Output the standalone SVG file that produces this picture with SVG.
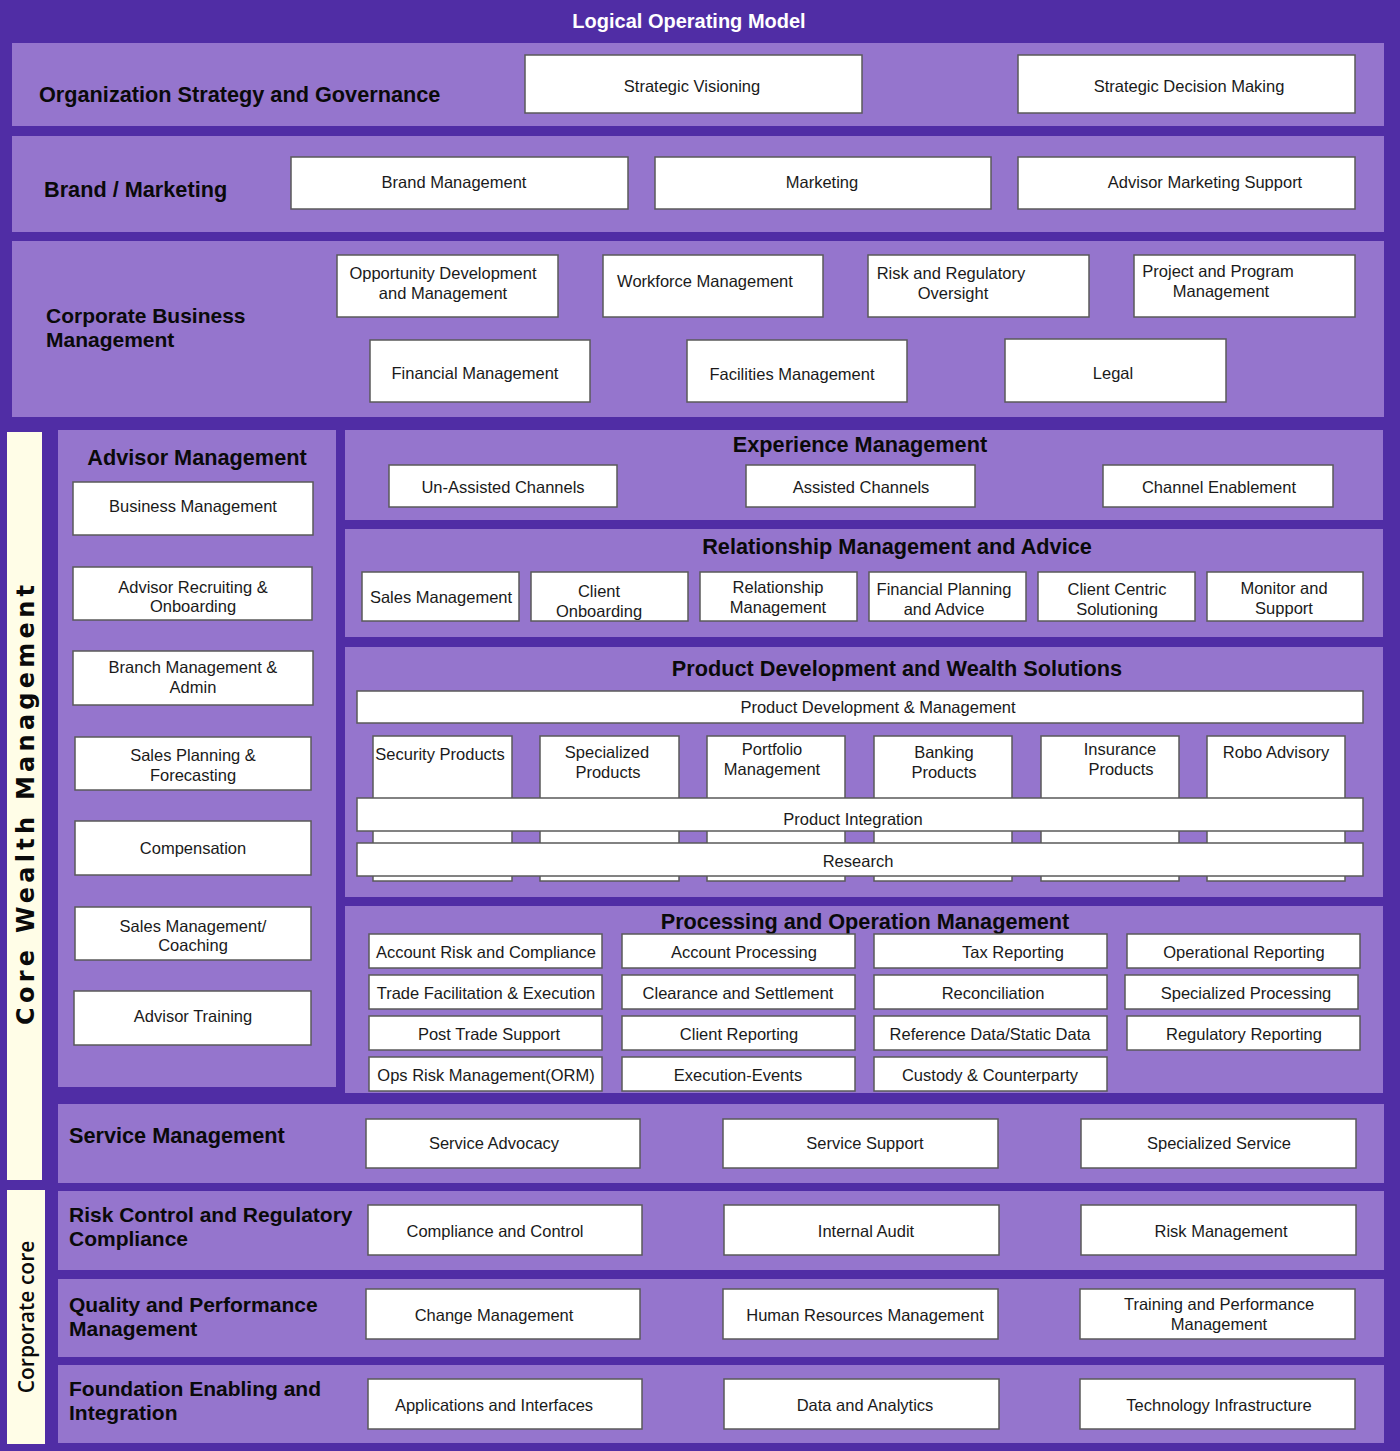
<svg xmlns="http://www.w3.org/2000/svg" width="1400" height="1451" viewBox="0 0 1400 1451">
<style>
.bg{fill:#502DA5}
.panel{fill:#9575CD}
.cream{fill:#FFFDE7}
.box{fill:#FFFFFF;stroke:#5A5A5A;stroke-width:1.5}
.t{font-family:"Liberation Sans",Arial,sans-serif;font-size:16.5px;fill:#1A1A1A;text-anchor:middle;dominant-baseline:central}
.h{font-family:"Liberation Sans",Arial,sans-serif;font-size:21.7px;font-weight:bold;fill:#0A0A0A}
.h2{font-size:21px}
.hc{text-anchor:middle}
.title{font-family:"Liberation Sans",Arial,sans-serif;font-size:20px;font-weight:bold;fill:#FFFFFF;text-anchor:middle}
.vl{font-family:"DejaVu Sans",Verdana,sans-serif;font-size:24px;font-weight:bold;fill:#0A0A0A;text-anchor:middle}
.vc{font-family:"Open Sans","DejaVu Sans",sans-serif;font-size:21px;font-weight:600;fill:#0A0A0A;text-anchor:middle}
</style>
<rect class="bg" x="0" y="0" width="1400" height="1451"/>
<text class="title" x="689" y="28">Logical Operating Model</text>

<!-- Organization Strategy -->
<g id="org-strategy">
<rect class="panel" x="12" y="43" width="1372" height="83"/>
<text class="h" x="39" y="102">Organization Strategy and Governance</text>
<g id="strategic-visioning"><rect class="box" x="525" y="55" width="337" height="58"/><text class="t" x="692" y="86">Strategic Visioning</text></g>
<g id="strategic-decision"><rect class="box" x="1018" y="55" width="337" height="58"/><text class="t" x="1189" y="86">Strategic Decision Making</text></g>
</g>

<!-- Brand / Marketing -->
<g id="brand-marketing">
<rect class="panel" x="12" y="136" width="1372" height="96"/>
<text class="h" x="44" y="197">Brand / Marketing</text>
<g id="brand-management"><rect class="box" x="291" y="157" width="337" height="52"/><text class="t" x="454" y="182">Brand Management</text></g>
<g id="marketing"><rect class="box" x="655" y="157" width="336" height="52"/><text class="t" x="822" y="182">Marketing</text></g>
<g id="advisor-marketing-support"><rect class="box" x="1018" y="157" width="337" height="52"/><text class="t" x="1205" y="182">Advisor Marketing Support</text></g>
</g>

<!-- Corporate Business Management -->
<g id="corporate-business">
<rect class="panel" x="12" y="241" width="1372" height="176"/>
<text class="h h2" x="46" y="323">Corporate Business</text>
<text class="h h2" x="46" y="347">Management</text>
<g id="opportunity-dev"><rect class="box" x="337" y="255" width="221" height="62"/><text class="t" x="443" y="273">Opportunity Development</text><text class="t" x="443" y="293">and Management</text></g>
<g id="workforce"><rect class="box" x="603" y="255" width="220" height="62"/><text class="t" x="705" y="281">Workforce Management</text></g>
<g id="risk-regulatory-oversight"><rect class="box" x="868" y="255" width="221" height="62"/><text class="t" x="951" y="273">Risk and Regulatory</text><text class="t" x="953" y="293">Oversight</text></g>
<g id="project-program"><rect class="box" x="1134" y="255" width="221" height="62"/><text class="t" x="1218" y="271">Project and Program</text><text class="t" x="1221" y="291">Management</text></g>
<g id="financial-management"><rect class="box" x="370" y="340" width="220" height="62"/><text class="t" x="475" y="373">Financial Management</text></g>
<g id="facilities-management"><rect class="box" x="687" y="340" width="220" height="62"/><text class="t" x="792" y="374">Facilities Management</text></g>
<g id="legal"><rect class="box" x="1005" y="339" width="221" height="63"/><text class="t" x="1113" y="373">Legal</text></g>
</g>

<!-- Core Wealth Management label -->
<g id="core-wealth-label">
<rect class="cream" x="7" y="432" width="35" height="748"/>
<text class="vl" transform="translate(34,805) rotate(-90)" textLength="440" lengthAdjust="spacing">Core Wealth Management</text>
</g>

<!-- Advisor Management -->
<g id="advisor-management">
<rect class="panel" x="58" y="430" width="278" height="657"/>
<text class="h hc" x="197" y="465">Advisor Management</text>
<g id="business-management"><rect class="box" x="73" y="482" width="240" height="53"/><text class="t" x="193" y="506">Business Management</text></g>
<g id="advisor-recruiting"><rect class="box" x="73" y="567" width="239" height="53"/><text class="t" x="193" y="587">Advisor Recruiting &amp;</text><text class="t" x="193" y="606">Onboarding</text></g>
<g id="branch-management"><rect class="box" x="73" y="651" width="240" height="54"/><text class="t" x="193" y="667">Branch Management &amp;</text><text class="t" x="193" y="687">Admin</text></g>
<g id="sales-planning"><rect class="box" x="75" y="737" width="236" height="53"/><text class="t" x="193" y="755">Sales Planning &amp;</text><text class="t" x="193" y="775">Forecasting</text></g>
<g id="compensation"><rect class="box" x="75" y="821" width="236" height="54"/><text class="t" x="193" y="848">Compensation</text></g>
<g id="sales-management-coaching"><rect class="box" x="75" y="907" width="236" height="53"/><text class="t" x="193" y="926">Sales Management/</text><text class="t" x="193" y="945">Coaching</text></g>
<g id="advisor-training"><rect class="box" x="74" y="991" width="237" height="54"/><text class="t" x="193" y="1016">Advisor Training</text></g>
</g>

<!-- Experience Management -->
<g id="experience-management">
<rect class="panel" x="345" y="430" width="1038" height="90"/>
<text class="h hc" x="860" y="452">Experience Management</text>
<g id="un-assisted"><rect class="box" x="389" y="465" width="228" height="42"/><text class="t" x="503" y="487">Un-Assisted Channels</text></g>
<g id="assisted"><rect class="box" x="746" y="465" width="229" height="42"/><text class="t" x="861" y="487">Assisted Channels</text></g>
<g id="channel-enablement"><rect class="box" x="1103" y="465" width="230" height="42"/><text class="t" x="1219" y="487">Channel Enablement</text></g>
</g>

<!-- Relationship Management and Advice -->
<g id="relationship-management-advice">
<rect class="panel" x="345" y="529" width="1038" height="108"/>
<text class="h hc" x="897" y="554">Relationship Management and Advice</text>
<g id="sales-management"><rect class="box" x="362" y="572" width="157" height="49"/><text class="t" x="441" y="597">Sales Management</text></g>
<g id="client-onboarding"><rect class="box" x="531" y="572" width="157" height="49"/><text class="t" x="599" y="591">Client</text><text class="t" x="599" y="611">Onboarding</text></g>
<g id="relationship-management"><rect class="box" x="700" y="572" width="157" height="49"/><text class="t" x="778" y="587">Relationship</text><text class="t" x="778" y="607">Management</text></g>
<g id="financial-planning"><rect class="box" x="869" y="572" width="157" height="49"/><text class="t" x="944" y="589">Financial Planning</text><text class="t" x="944" y="609">and Advice</text></g>
<g id="client-centric"><rect class="box" x="1038" y="572" width="157" height="49"/><text class="t" x="1117" y="589">Client Centric</text><text class="t" x="1117" y="609">Solutioning</text></g>
<g id="monitor-support"><rect class="box" x="1207" y="572" width="156" height="49"/><text class="t" x="1284" y="588">Monitor and</text><text class="t" x="1284" y="608">Support</text></g>
</g>

<!-- Product Development and Wealth Solutions -->
<g id="product-development">
<rect class="panel" x="345" y="647" width="1038" height="250"/>
<text class="h hc" x="897" y="676">Product Development and Wealth Solutions</text>
<g id="pdm"><rect class="box" x="357" y="691" width="1006" height="32"/><text class="t" x="878" y="707">Product Development &amp; Management</text></g>
<g id="security-products"><rect class="box" x="373" y="736" width="139" height="145"/><text class="t" x="440" y="754">Security Products</text></g>
<g id="specialized-products"><rect class="box" x="540" y="736" width="139" height="145"/><text class="t" x="607" y="752">Specialized</text><text class="t" x="608" y="772">Products</text></g>
<g id="portfolio-management"><rect class="box" x="707" y="736" width="138" height="145"/><text class="t" x="772" y="749">Portfolio</text><text class="t" x="772" y="769">Management</text></g>
<g id="banking-products"><rect class="box" x="874" y="736" width="138" height="145"/><text class="t" x="944" y="752">Banking</text><text class="t" x="944" y="772">Products</text></g>
<g id="insurance-products"><rect class="box" x="1041" y="736" width="138" height="145"/><text class="t" x="1120" y="749">Insurance</text><text class="t" x="1121" y="769">Products</text></g>
<g id="robo-advisory"><rect class="box" x="1207" y="736" width="138" height="145"/><text class="t" x="1276" y="752">Robo Advisory</text></g>
<g id="product-integration"><rect class="box" x="357" y="798" width="1006" height="33"/><text class="t" x="853" y="819">Product Integration</text></g>
<g id="research"><rect class="box" x="357" y="843" width="1006" height="33"/><text class="t" x="858" y="861">Research</text></g>
</g>

<!-- Processing and Operation Management -->
<g id="processing-operation">
<rect class="panel" x="345" y="906" width="1038" height="187"/>
<text class="h hc" x="865" y="929">Processing and Operation Management</text>
<g id="account-risk"><rect class="box" x="369" y="934" width="233" height="34"/><text class="t" x="486" y="952">Account Risk and Compliance</text></g>
<g id="trade-facilitation"><rect class="box" x="369" y="975" width="233" height="34"/><text class="t" x="486" y="993">Trade Facilitation &amp; Execution</text></g>
<g id="post-trade"><rect class="box" x="369" y="1016" width="233" height="34"/><text class="t" x="489" y="1034">Post Trade Support</text></g>
<g id="ops-risk"><rect class="box" x="369" y="1057" width="233" height="34"/><text class="t" x="486" y="1075">Ops Risk Management(ORM)</text></g>
<g id="account-processing"><rect class="box" x="622" y="934" width="233" height="34"/><text class="t" x="744" y="952">Account Processing</text></g>
<g id="clearance"><rect class="box" x="622" y="975" width="233" height="34"/><text class="t" x="738" y="993">Clearance and Settlement</text></g>
<g id="client-reporting"><rect class="box" x="622" y="1016" width="233" height="34"/><text class="t" x="739" y="1034">Client Reporting</text></g>
<g id="execution-events"><rect class="box" x="622" y="1057" width="233" height="34"/><text class="t" x="738" y="1075">Execution-Events</text></g>
<g id="tax-reporting"><rect class="box" x="874" y="934" width="233" height="34"/><text class="t" x="1013" y="952">Tax Reporting</text></g>
<g id="reconciliation"><rect class="box" x="874" y="975" width="233" height="34"/><text class="t" x="993" y="993">Reconciliation</text></g>
<g id="reference-data"><rect class="box" x="874" y="1016" width="233" height="34"/><text class="t" x="990" y="1034">Reference Data/Static Data</text></g>
<g id="custody"><rect class="box" x="874" y="1057" width="233" height="34"/><text class="t" x="990" y="1075">Custody &amp; Counterparty</text></g>
<g id="operational-reporting"><rect class="box" x="1127" y="934" width="233" height="34"/><text class="t" x="1244" y="952">Operational Reporting</text></g>
<g id="specialized-processing"><rect class="box" x="1125" y="975" width="233" height="34"/><text class="t" x="1246" y="993">Specialized Processing</text></g>
<g id="regulatory-reporting"><rect class="box" x="1127" y="1016" width="233" height="34"/><text class="t" x="1244" y="1034">Regulatory Reporting</text></g>
</g>

<!-- Service Management -->
<g id="service-management">
<rect class="panel" x="58" y="1104" width="1326" height="79"/>
<text class="h" x="69" y="1143">Service Management</text>
<g id="service-advocacy"><rect class="box" x="366" y="1119" width="274" height="49"/><text class="t" x="494" y="1143">Service Advocacy</text></g>
<g id="service-support"><rect class="box" x="723" y="1119" width="275" height="49"/><text class="t" x="865" y="1143">Service Support</text></g>
<g id="specialized-service"><rect class="box" x="1081" y="1119" width="275" height="49"/><text class="t" x="1219" y="1143">Specialized Service</text></g>
</g>

<!-- Corporate core label -->
<g id="corporate-core-label">
<rect class="cream" x="7" y="1190" width="38" height="254"/>
<text class="vc" transform="translate(34,1317) rotate(-90)">Corporate core</text>
</g>

<!-- Risk Control -->
<g id="risk-control">
<rect class="panel" x="58" y="1191" width="1326" height="79"/>
<text class="h h2" x="69" y="1222">Risk Control and Regulatory</text>
<text class="h h2" x="69" y="1246">Compliance</text>
<g id="compliance-control"><rect class="box" x="368" y="1205" width="274" height="50"/><text class="t" x="495" y="1231">Compliance and Control</text></g>
<g id="internal-audit"><rect class="box" x="724" y="1205" width="275" height="50"/><text class="t" x="866" y="1231">Internal Audit</text></g>
<g id="risk-management"><rect class="box" x="1081" y="1205" width="275" height="50"/><text class="t" x="1221" y="1231">Risk Management</text></g>
</g>

<!-- Quality and Performance -->
<g id="quality-performance">
<rect class="panel" x="58" y="1279" width="1326" height="78"/>
<text class="h h2" x="69" y="1312">Quality and Performance</text>
<text class="h h2" x="69" y="1336">Management</text>
<g id="change-management"><rect class="box" x="366" y="1289" width="274" height="50"/><text class="t" x="494" y="1315">Change Management</text></g>
<g id="hr-management"><rect class="box" x="723" y="1289" width="275" height="50"/><text class="t" x="865" y="1315">Human Resources Management</text></g>
<g id="training-performance"><rect class="box" x="1080" y="1289" width="275" height="50"/><text class="t" x="1219" y="1304">Training and Performance</text><text class="t" x="1219" y="1324">Management</text></g>
</g>

<!-- Foundation -->
<g id="foundation">
<rect class="panel" x="58" y="1365" width="1326" height="78"/>
<text class="h h2" x="69" y="1396">Foundation Enabling and</text>
<text class="h h2" x="69" y="1420">Integration</text>
<g id="applications-interfaces"><rect class="box" x="368" y="1379" width="274" height="50"/><text class="t" x="494" y="1405">Applications and Interfaces</text></g>
<g id="data-analytics"><rect class="box" x="724" y="1379" width="275" height="50"/><text class="t" x="865" y="1405">Data and Analytics</text></g>
<g id="technology-infrastructure"><rect class="box" x="1080" y="1379" width="275" height="50"/><text class="t" x="1219" y="1405">Technology Infrastructure</text></g>
</g>

<g id="connectors"></g>
</svg>
